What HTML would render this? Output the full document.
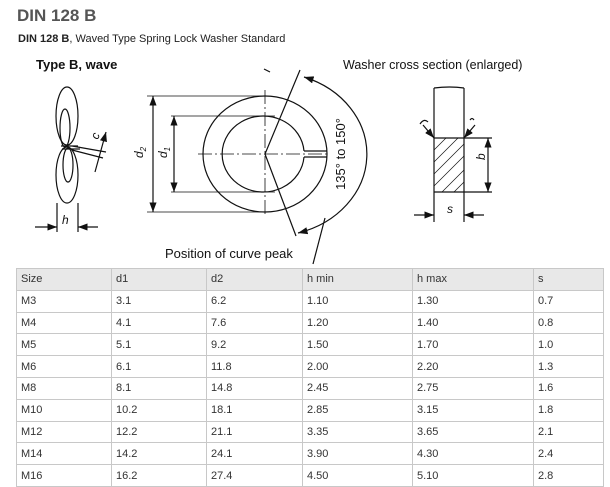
<!DOCTYPE html>
<html><head><style>
body{margin:0;background:#fff;font-family:"Liberation Sans",Arial,sans-serif;color:#333;width:610px;height:487px;overflow:hidden;position:relative}
h1{position:absolute;left:17px;top:6px;margin:0;font-size:17px;font-weight:bold;color:#555}
.sub{position:absolute;left:18px;top:33px;font-size:11px;color:#222}
svg{position:absolute;left:0;top:0}
table{position:absolute;left:16px;top:268px;width:588px;border-collapse:collapse;font-size:11px;color:#333}
td{border:1px solid #c8c8c8;height:20.8px;padding:0 0 0 4px;vertical-align:middle;line-height:12px}
tr:first-child td{background:#e8e8e8}
</style></head><body>
<h1>DIN 128 B</h1>
<div class="sub"><b>DIN 128 B</b>, Waved Type Spring Lock Washer Standard</div>
<svg width="610" height="267" viewBox="0 0 610 267" fill="none" stroke="#111" stroke-width="1.2">
<defs><marker id="a" markerWidth="8" markerHeight="6" refX="8" refY="3" orient="auto-start-reverse"><path d="M0,0L8,3L0,6z" fill="#111" stroke="none"/></marker></defs>
<g font-family="Liberation Sans,Arial,sans-serif" fill="#111" stroke="none">
<text x="36" y="69" font-size="13" font-weight="bold">Type B, wave</text>
<text x="343" y="69" font-size="12.5">Washer cross section (enlarged)</text>
<text x="165" y="258" font-size="13">Position of curve peak</text>
<text transform="translate(345,154) rotate(-90)" text-anchor="middle" font-size="13">135° to 150°</text>
<text x="62" y="224" font-size="12" font-style="italic">h</text>
<text x="447" y="213" font-size="12" font-style="italic">s</text>
<text transform="translate(143,158) rotate(-90)" font-size="12" font-style="italic">d<tspan font-size="8" dy="3">2</tspan></text>
<text transform="translate(167,158) rotate(-90)" font-size="12" font-style="italic">d<tspan font-size="8" dy="3">1</tspan></text>
<text transform="translate(485,160) rotate(-90)" font-size="12" font-style="italic">b</text>
<text transform="translate(98,140) rotate(-70)" font-size="12" font-style="italic">c</text>
</g>
<ellipse cx="67" cy="116" rx="11" ry="29"/>
<ellipse cx="65" cy="128" rx="5" ry="19"/>
<ellipse cx="67" cy="175" rx="11" ry="28"/>
<ellipse cx="68" cy="165" rx="5" ry="17"/>
<path d="M61,146L78,146M62,149L80,149M72,146L106,152M72,150L103,158"/>
<path d="M106,132L95,172" marker-start="url(#a)"/>
<path d="M57,203V232M78,203V232"/><path d="M35,227H57" marker-end="url(#a)"/><path d="M98,227H78" marker-end="url(#a)"/>
<ellipse cx="265" cy="154" rx="62" ry="58"/>
<path d="M304,151A41,38 0 1 0 304,157"/>
<path d="M304,151H327M304,157H327"/>
<path d="M198,154H329" stroke-dasharray="14,3,2,3" stroke-width="0.8"/>
<path d="M265,90V217" stroke-dasharray="14,3,2,3" stroke-width="0.8"/>
<path d="M147,96H265M147,212H265M171,116H275M171,192H275" stroke-width="0.8"/>
<path d="M153,96V212" marker-start="url(#a)" marker-end="url(#a)"/>
<path d="M174,116V192" marker-start="url(#a)" marker-end="url(#a)"/>
<path d="M265,154L300,70M265,154L296,236"/>
<path d="M304,77A95,82 0 0 1 298,233" marker-start="url(#a)" marker-end="url(#a)"/>
<path d="M325,218L313,264"/>
<path d="M264,69L270,72"/>
<path d="M434,192V88M464,192V88M434,88Q450,86 464,88M434,138H464M434,192H464"/>
<g stroke-width="0.7"><path d="M434,150L446,138M434,162L458,138M434,174L464,144M434,186L464,156M442,192L464,170M454,192L464,182"/></g>
<path d="M464,138H492M464,192H492"/>
<path d="M488,138V192" marker-start="url(#a)" marker-end="url(#a)"/>
<path d="M434,192V222M464,192V222"/><path d="M414,215H434" marker-end="url(#a)"/><path d="M484,215H464" marker-end="url(#a)"/>
<path d="M423,125L434,138" marker-end="url(#a)"/><path d="M420,124Q424,118 428,122"/>
<path d="M475,125L464,138" marker-end="url(#a)"/><path d="M470,120Q472,117 474,120"/>
</svg>
<table>
<tr><td style="width:90px">Size</td><td style="width:90px">d1</td><td style="width:91px">d2</td><td style="width:105px">h min</td><td style="width:116px">h max</td><td>s</td></tr>
<tr><td>M3</td><td>3.1</td><td>6.2</td><td>1.10</td><td>1.30</td><td>0.7</td></tr>
<tr><td>M4</td><td>4.1</td><td>7.6</td><td>1.20</td><td>1.40</td><td>0.8</td></tr>
<tr><td>M5</td><td>5.1</td><td>9.2</td><td>1.50</td><td>1.70</td><td>1.0</td></tr>
<tr><td>M6</td><td>6.1</td><td>11.8</td><td>2.00</td><td>2.20</td><td>1.3</td></tr>
<tr><td>M8</td><td>8.1</td><td>14.8</td><td>2.45</td><td>2.75</td><td>1.6</td></tr>
<tr><td>M10</td><td>10.2</td><td>18.1</td><td>2.85</td><td>3.15</td><td>1.8</td></tr>
<tr><td>M12</td><td>12.2</td><td>21.1</td><td>3.35</td><td>3.65</td><td>2.1</td></tr>
<tr><td>M14</td><td>14.2</td><td>24.1</td><td>3.90</td><td>4.30</td><td>2.4</td></tr>
<tr><td>M16</td><td>16.2</td><td>27.4</td><td>4.50</td><td>5.10</td><td>2.8</td></tr>
</table>
</body></html>
